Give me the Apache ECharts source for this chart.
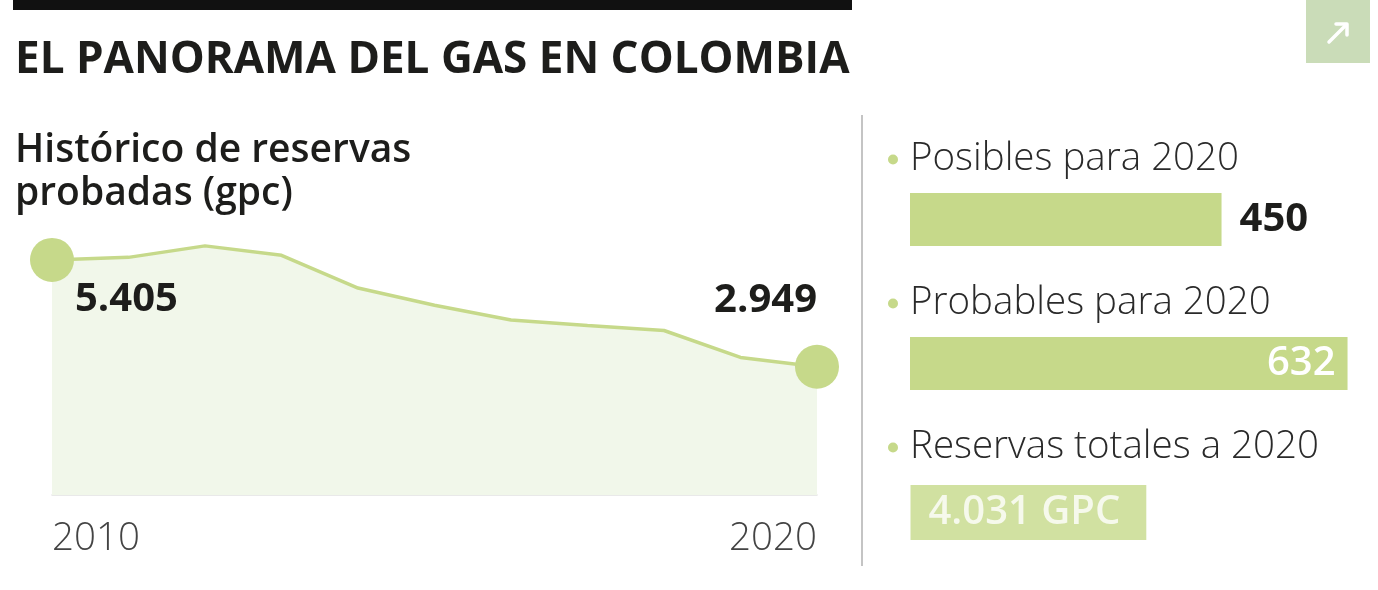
<!DOCTYPE html>
<html>
<head>
<meta charset="utf-8">
<script src="https://cdn.jsdelivr.net/npm/echarts@6/dist/echarts.min.js"></script>
<style>
  html, body { margin: 0; padding: 0; background: #fff; }
  #chart { width: 1378px; height: 590px; }
</style>
</head>
<body>
<div id="chart"></div>
<script>
// reservas probadas (gpc) por año
const years = ['2010', '2011', '2012', '2013', '2014', '2015', '2016', '2017', '2018', '2019', '2020']
const provenReserves = [5405, 5463, 5727, 5509, 4758, 4361, 4024, 3896, 3782, 3163, 2949]

// panel derecho
const barCategories = ['Posibles para 2020', 'Probables para 2020', 'Reservas totales a 2020']
const barValues = [450, 632, null]
const totalReserves = 4031

const green = '#c6d98a'
const fmt = v => String(v).replace(/\B(?=(\d{3})+(?!\d))/g, '.')
const FONT = '"Open Sans", "Noto Sans", sans-serif'

const chart = echarts.init(document.getElementById('chart'))

const lastIdx = provenReserves.length - 1
const lineData = provenReserves.map((v, i) => {
  if (i === 0) {
    return { value: v, label: { show: true, position: 'right', distance: 1, offset: [0, 40] } }
  }
  if (i === lastIdx) {
    return { value: v, label: { show: true, position: 'top', align: 'right', distance: 22 } }
  }
  return v
})

const barData = barValues.map((v, i) => {
  if (i === 0) {
    return { value: v, label: { show: true, position: 'right', distance: 18, color: '#1d1d1b', fontWeight: 700 } }
  }
  if (i === 1) {
    return { value: v, label: { show: true, position: 'insideRight', distance: 12, color: '#fff', fontWeight: 600 } }
  }
  return v
})

const option = {
  animation: false,
  textStyle: { fontFamily: FONT },
  title: [
    {
      text: 'EL PANORAMA DEL GAS EN COLOMBIA',
      left: 10,
      top: 30,
      textStyle: { fontFamily: FONT, fontSize: 44, fontWeight: 700, color: '#1d1d1b', lineHeight: 50 }
    },
    {
      text: 'Histórico de reservas\nprobadas (gpc)',
      left: 10,
      top: 124,
      textStyle: { fontFamily: FONT, fontSize: 39, fontWeight: 600, color: '#1d1d1b', lineHeight: 43 }
    }
  ],
  graphic: [
    { type: 'rect', shape: { x: 13, y: 0, width: 839, height: 10 }, style: { fill: '#111' } },
    { type: 'rect', shape: { x: 1306, y: 0, width: 64, height: 63 }, style: { fill: '#cadcb8' } },
    {
      type: 'polyline',
      shape: { points: [[1329, 42], [1346, 25]] },
      style: { stroke: '#fff', lineWidth: 3.5, fill: null, lineCap: 'round' }
    },
    {
      type: 'polyline',
      shape: { points: [[1336, 24], [1347, 24], [1347, 35]] },
      style: { stroke: '#fff', lineWidth: 3.5, fill: null, lineCap: 'round', lineJoin: 'round' }
    },
    {
      type: 'line',
      shape: { x1: 862, y1: 115, x2: 862, y2: 566 },
      style: { stroke: '#c4c4c4', lineWidth: 2 }
    }
  ],
  grid: [
    { left: 52, width: 765, top: 234, height: 261 },
    { left: 910, width: 450, top: 147.5, height: 432 }
  ],
  xAxis: [
    {
      gridIndex: 0,
      type: 'category',
      boundaryGap: false,
      data: years,
      axisLine: { lineStyle: { color: '#e2e2e2', width: 1.5 } },
      axisTick: { show: false },
      axisLabel: {
        interval: (i) => i === 0 || i === lastIdx,
        alignMinLabel: 'left',
        alignMaxLabel: 'right',
        margin: 22,
        fontFamily: FONT,
        fontSize: 38.5,
        fontWeight: 300,
        color: '#444',
        lineHeight: 44
      }
    },
    {
      gridIndex: 1,
      type: 'value',
      min: 0,
      max: 650,
      show: false
    }
  ],
  yAxis: [
    {
      gridIndex: 0,
      type: 'value',
      min: 0,
      max: 6000,
      show: false
    },
    {
      gridIndex: 1,
      type: 'category',
      inverse: true,
      data: barCategories,
      offset: 22,
      axisLine: { show: false },
      axisTick: { show: false },
      splitLine: { show: false },
      axisLabel: {
        inside: true,
        margin: 0,
        verticalAlign: 'bottom',
        padding: [0, 0, 38, 0],
        formatter: (name) => '{dot|}{t|' + name + '}',
        rich: {
          dot: { width: 10, height: 10, borderRadius: 5, backgroundColor: green },
          t: {
            fontFamily: FONT,
            fontSize: 38.5,
            fontWeight: 300,
            color: '#2a2a2a',
            lineHeight: 44,
            padding: [0, 0, 0, 12]
          }
        }
      }
    }
  ],
  series: [
    {
      type: 'line',
      xAxisIndex: 0,
      yAxisIndex: 0,
      data: lineData,
      symbol: 'circle',
      symbolSize: (v, p) => (p.dataIndex === 0 || p.dataIndex === lastIdx ? 44 : 0),
      showAllSymbol: true,
      lineStyle: { color: green, width: 3.5 },
      itemStyle: { color: green },
      areaStyle: { color: '#f1f7ea', opacity: 1 },
      label: {
        show: false,
        formatter: (p) => fmt(p.value),
        fontFamily: FONT,
        fontSize: 40,
        fontWeight: 700,
        color: '#1d1d1b',
        lineHeight: 44
      },
      z: 3
    },
    {
      type: 'bar',
      xAxisIndex: 1,
      yAxisIndex: 1,
      data: barData,
      barWidth: 53,
      itemStyle: { color: green },
      label: {
        fontFamily: FONT,
        fontSize: 40,
        lineHeight: 44,
        formatter: (p) => fmt(p.value)
      }
    },
    {
      type: 'scatter',
      xAxisIndex: 1,
      yAxisIndex: 1,
      data: [[0, 2]],
      symbolSize: 1,
      itemStyle: { color: 'rgba(0,0,0,0)' },
      label: {
        show: true,
        position: 'right',
        distance: 0,
        offset: [0, 5],
        formatter: () => fmt(totalReserves) + ' GPC',
        fontFamily: FONT,
        fontSize: 40,
        fontWeight: 600,
        color: '#fff',
        lineHeight: 43,
        backgroundColor: green,
        padding: [6, 26, 6, 18]
      }
    }
  ]
}

chart.setOption(option)
</script>
</body>
</html>
